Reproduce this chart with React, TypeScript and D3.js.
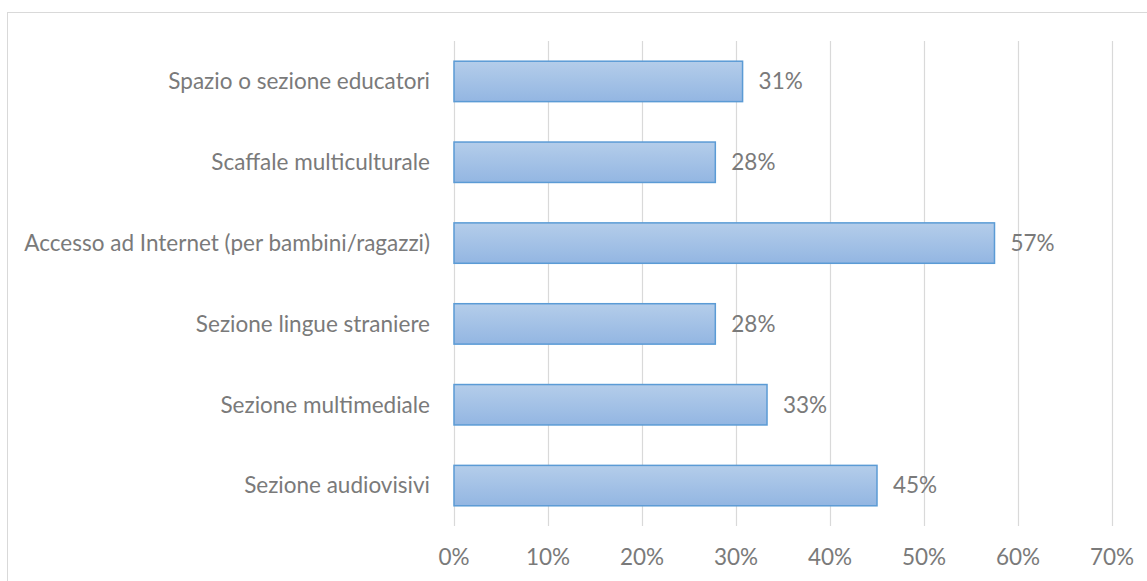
import React from "react";
import * as d3 from "d3";

const categories = [
  "Spazio o sezione educatori",
  "Scaffale multiculturale",
  "Accesso ad Internet (per bambini/ragazzi)",
  "Sezione lingue straniere",
  "Sezione multimediale",
  "Sezione audiovisivi",
];
const values = [0.307, 0.278, 0.575, 0.278, 0.333, 0.45];
const labels = ["31%", "28%", "57%", "28%", "33%", "45%"];
const ticks = [0, 0.1, 0.2, 0.3, 0.4, 0.5, 0.6, 0.7];

const W = 1147;
const H = 581;
const FONT = "Lato, 'Open Sans', sans-serif";
const TEXT = "#7a7a7a";
const FS = 22.5;

export default function App() {
  const x = d3.scaleLinear().domain([0, 0.7]).range([454, 1112]);
  const y = d3.scaleBand().domain(categories).range([41, 526]).paddingInner(0.5).paddingOuter(0.25);
  const fmt = d3.format(".0%");
  return (
    <svg width={W} height={H} style={{ position: "absolute", left: 0, top: 0 }}>
      <defs>
        <linearGradient id="barGrad" x1="0" y1="0" x2="0" y2="1">
          <stop offset="0" stopColor="#b4cdea" />
          <stop offset="1" stopColor="#93b6e2" />
        </linearGradient>
      </defs>
      <rect x={0} y={0} width={W} height={H} fill="#fff" />
      <rect x={7.5} y={12.5} width={1150} height={600} fill="#fff" stroke="#d9d9d9" strokeWidth={1} />
      {ticks.map((t) => (
        <line key={t} x1={Math.round(x(t)) + 0.5} x2={Math.round(x(t)) + 0.5} y1={41} y2={526} stroke="#d9d9d9" strokeWidth={1.2} />
      ))}
      {categories.map((c, i) => {
        const yy = y(c)!;
        const bh = y.bandwidth();
        return (
          <g key={c}>
            <rect x={x(0)} y={yy} width={x(values[i]) - x(0)} height={bh} fill="url(#barGrad)" stroke="#5b9bd5" strokeWidth={1.5} />
            <text x={x(values[i]) + 16} y={yy + bh / 2} dy="0.35em" fontFamily={FONT} fontSize={FS} fill={TEXT}>
              {labels[i]}
            </text>
            <text x={430} y={yy + bh / 2} dy="0.35em" textAnchor="end" fontFamily={FONT} fontSize={FS} fill={TEXT}>
              {c}
            </text>
          </g>
        );
      })}
      {ticks.map((t) => (
        <text key={"l" + t} x={x(t)} y={557} dy="0.35em" textAnchor="middle" fontFamily={FONT} fontSize={FS} fill={TEXT}>
          {fmt(t)}
        </text>
      ))}
    </svg>
  );
}
